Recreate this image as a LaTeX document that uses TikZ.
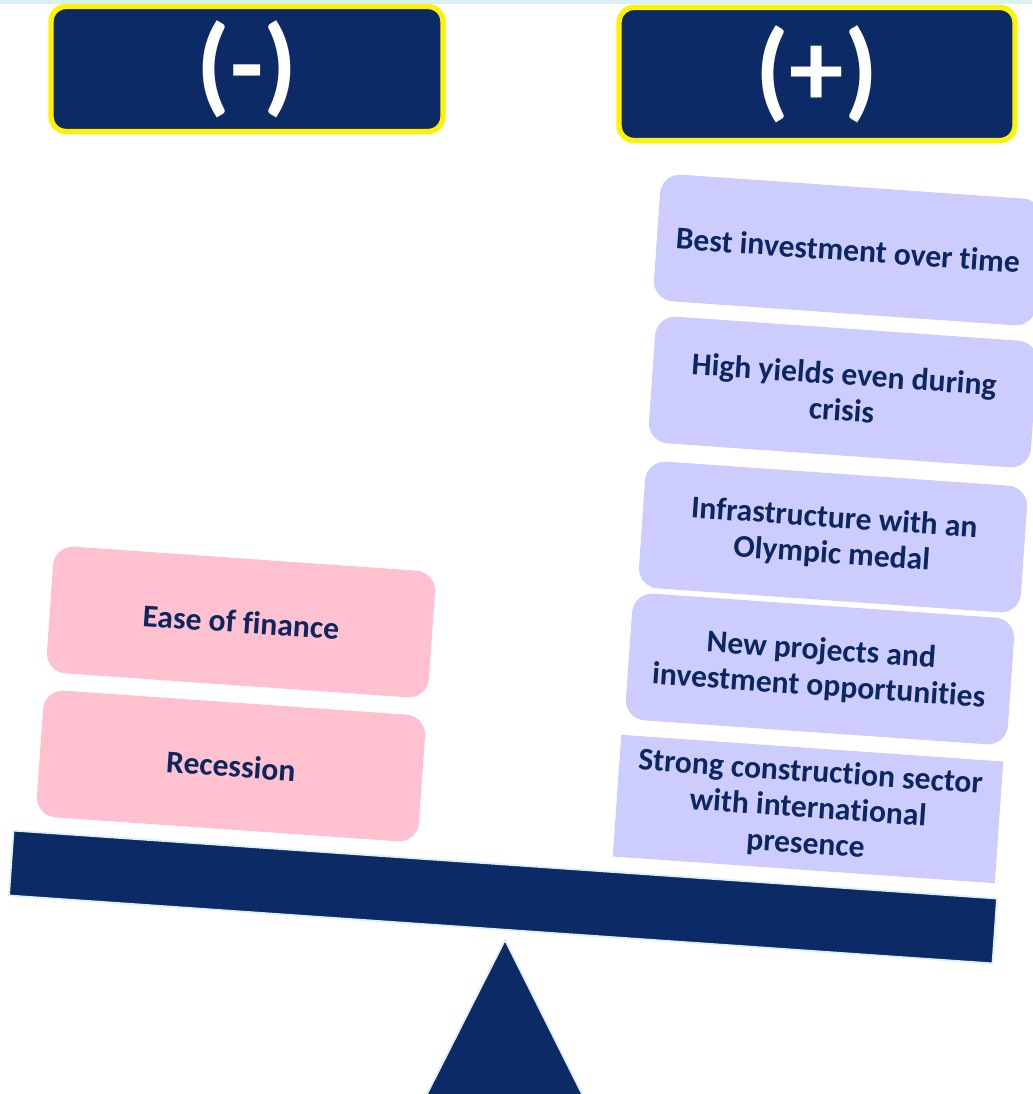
\documentclass[tikz,border=0pt]{standalone}
\usepackage{fontspec}
\setmainfont{Carlito}[Ligatures=NoCommon]
\usetikzlibrary{positioning}
\definecolor{navy}{HTML}{0B2A66}
\definecolor{inkblue}{HTML}{0C2660}
\definecolor{rose}{HTML}{FFC1CF}
\definecolor{lavender}{HTML}{CCCCFF}
\definecolor{frost}{HTML}{DAF0F3}
\begin{document}
\begin{tikzpicture}[x=0.02cm, y=-0.02cm,
	head/.style={fill=navy, draw=yellow, line width=3pt, rounded corners=0.3cm, text=white, font=\fontsize{62}{64}\selectfont\bfseries, inner sep=0pt},
	item/.style={rounded corners=0.4cm, minimum width=7.66cm, minimum height=2.54cm, text=inkblue, align=center, rotate=-4, font=\fontsize{18}{20.5}\selectfont\bfseries, inner sep=2pt},
	plusbox/.style={item, fill=lavender},
	minusbox/.style={item, fill=rose}]
	\useasboundingbox (0,0) rectangle (1032,1094);
	\fill[frost] (0,0) rectangle (1032,4);
	% headers
	\node[head, minimum width=7.84cm, minimum height=2.5cm] (minus) at (247,69) {(-)};
	\node[head, minimum width=7.92cm, minimum height=2.66cm] (plus) at (817,74) {(+)};
	% arguments for
	\node[plusbox] (best) at (848,250) {Best investment over time};
	\node[plusbox] (yields) at (843,392) {High yields even during\\crisis};
	\node[plusbox] (infra) at (833,537) {Infrastructure with an\\Olympic medal};
	\node[plusbox] (projects) at (820,669) {New projects and\\investment opportunities};
	\node[plusbox, rounded corners=0pt, minimum height=2.44cm] (strong) at (808,809) {Strong construction sector\\with international\\presence};
	% arguments against
	\node[minusbox] (ease) at (241,622) {Ease of finance};
	\node[minusbox] (recession) at (231,766) {Recession};
	% the scale
	\node[fill=navy, draw=frost, line width=1pt, minimum width=19.72cm, minimum height=1.3cm, rotate=-3.95, inner sep=0pt] (beam) at (503,897) {};
	\draw[fill=navy, draw=frost, line width=1pt] (505,940) -- (585,1100) -- (424,1100) -- cycle;
\end{tikzpicture}
\end{document}
